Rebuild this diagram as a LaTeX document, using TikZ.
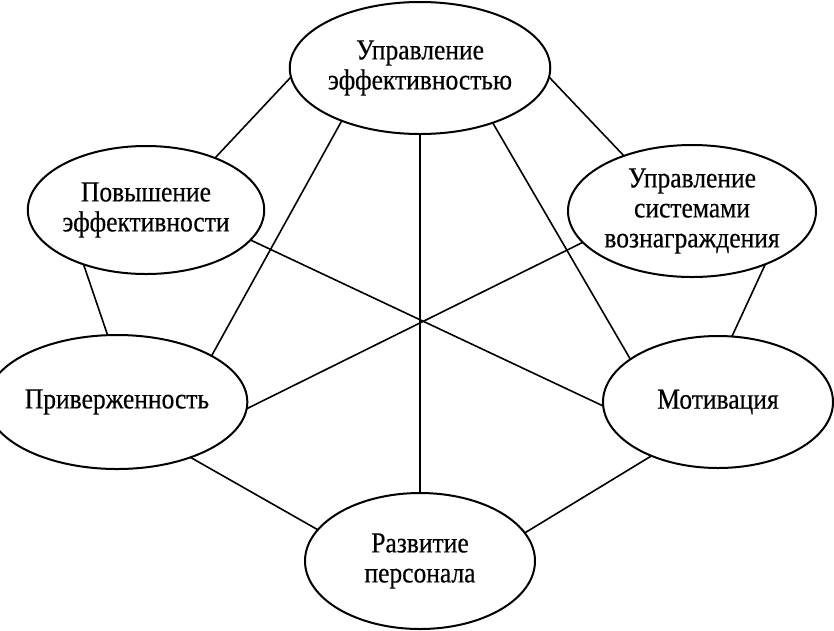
\documentclass[tikz,border=0pt]{standalone}
\usepackage{fontspec}
\setmainfont{Liberation Serif}[FakeStretch=0.88,FakeBold=0.4]
\usetikzlibrary{shapes.geometric}
\begin{document}
\begin{tikzpicture}[x=1pt,y=-1pt,
  oval/.style={draw, ellipse, line width=2pt, inner sep=0pt, outer sep=0pt, align=center, font=\fontsize{29}{30}\selectfont},
  link/.style={line width=1.6pt}]
\useasboundingbox (0,0) rectangle (834,630);
\node[oval, minimum width=240pt, minimum height=132pt] (T) at (420,68) {Управление\\эффективностью};
\node[oval, minimum width=226pt, minimum height=128pt] (LU) at (146,210) {Повышение\\эффективности};
\node[oval, minimum width=248pt, minimum height=132pt] (RU) at (692,211) {Управление\\системами\\вознаграждения};
\node[oval, minimum width=232pt, minimum height=134pt] (L) at (117,402) {Приверженность};
\node[oval, minimum width=230pt, minimum height=132pt] (R) at (718,402) {Мотивация};
\node[oval, minimum width=230pt, minimum height=136pt] (B) at (420,561) {Развитие\\персонала};
% perimeter
\draw[link] (T.184.3) -- (LU.37.8);
\draw[link] (T.-4.4) -- (RU.141.7);
\draw[link] (LU.221.3) -- (L.98.5);
\draw[link] (RU.-36.6) -- (R.78);
\draw[link] (L.-37.8) -- (B.163.2);
\draw[link] (R.219.4) -- (B.15.9);
% inner
\draw[link] (T.-90) -- (B.90);
\draw[link] (T.214.7) -- (L.26.6);
\draw[link] (T.-37) -- (R.154.2);
\draw[link] (LU.-16.6) -- (R.182);
\draw[link] (RU.196.1) -- (L.-3.5);
\end{tikzpicture}
\end{document}
